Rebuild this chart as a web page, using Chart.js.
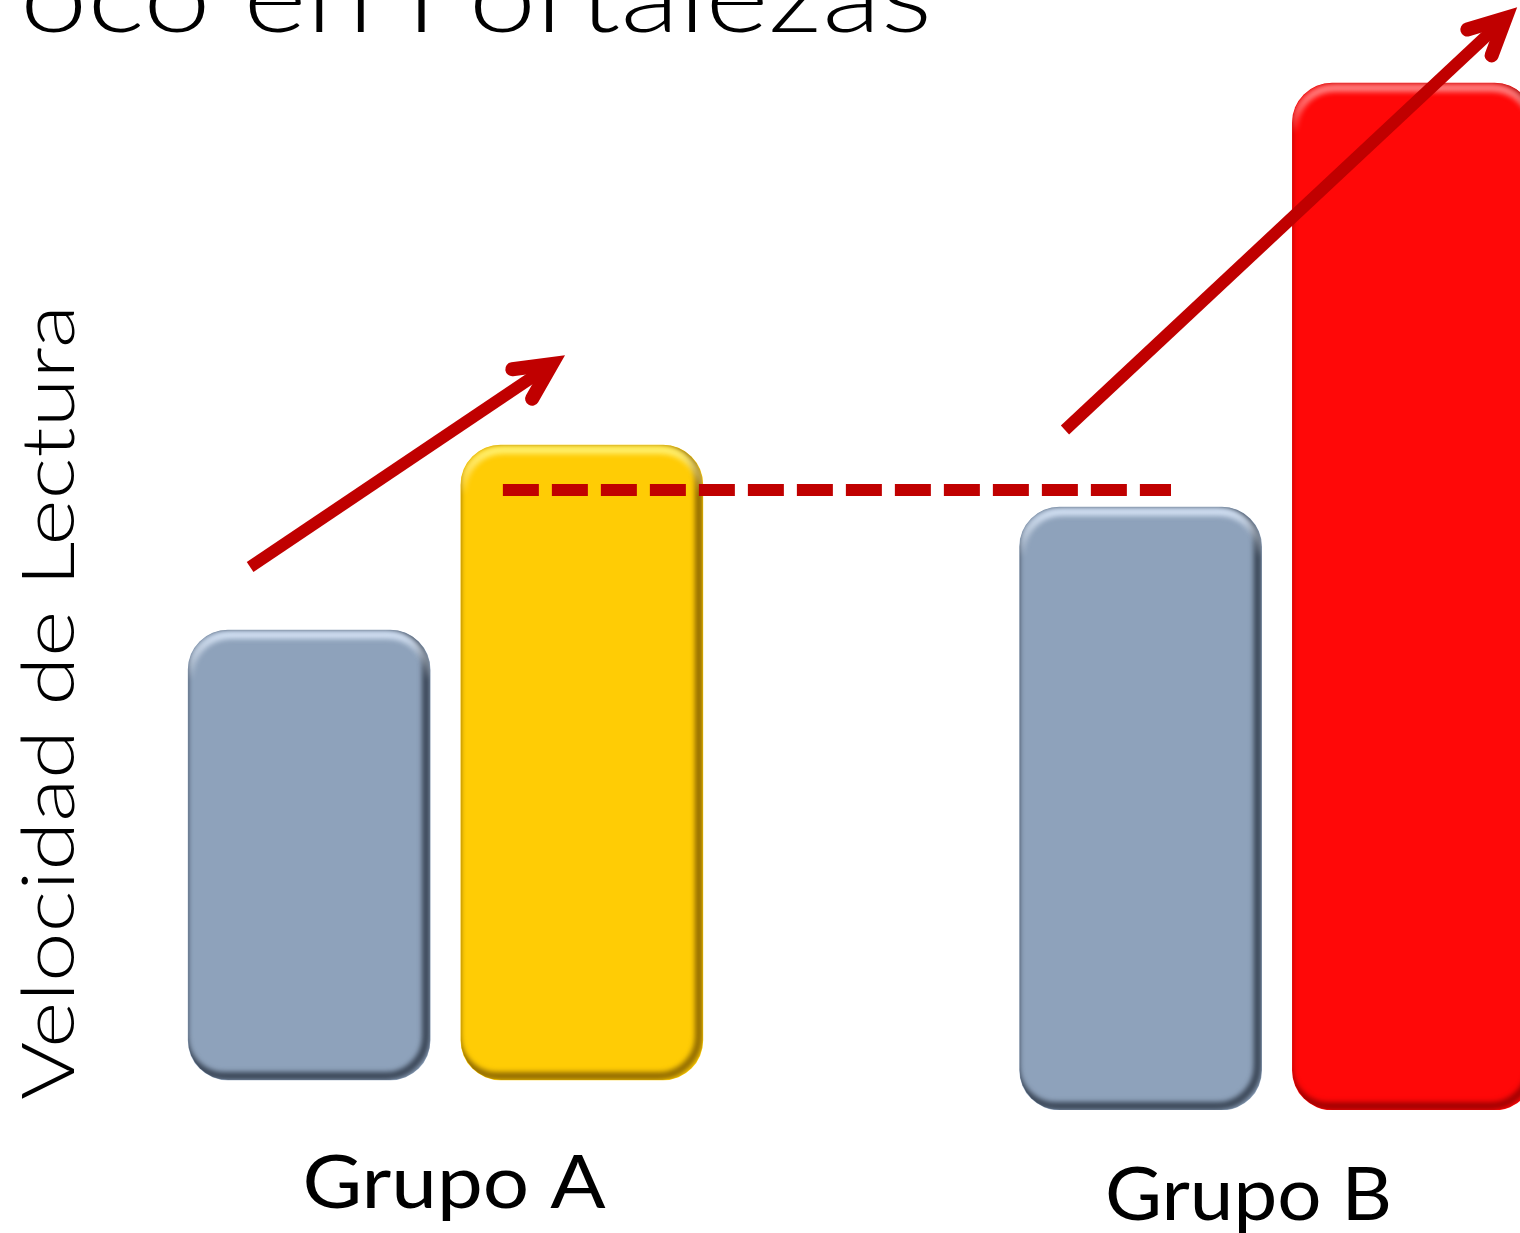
<!DOCTYPE html>
<html>
<head>
<meta charset="utf-8">
<script src="https://cdn.jsdelivr.net/npm/chart.js@4"></script>
<style>
  html, body { margin: 0; padding: 0; background: #fff; overflow: hidden; }
  #wrap { position: absolute; left: 0; top: 0; width: 1700px; height: 1233px; }
</style>
</head>
<body>
<div id="wrap"><canvas id="velChart" width="1700" height="1233"></canvas></div>
<script>
/* data */
const groups      = ['Grupo A', 'Grupo B'];
const antesBase   = [3, 0];
const antesTop    = [48, 60.3];
const despuesBase = [3, 0];
const despuesTop  = [66.5, 102.7];

// arrows + reference line, x in group units (0 = Grupo A, 1 = Grupo B)
const arrowAX = [-0.235, 0.128];
const arrowAY = [54.3, 74.6];
const arrowBX = [0.745, 1.275];
const arrowBY = [68, 109.2];
const refX    = [0.069, 0.8725];
const refY    = [62, 62];

const FONT = "Lato, 'DejaVu Sans', sans-serif";
const DARK_RED = '#C00000';
const GRAY = '#8EA2BB';
const RADIUS = 40;
const BAR_W = 242;
const HALF_GAP = 0.164;   // bar centre offset from group centre, in group units

// bevel colours per bar [light, dark]
const bevelAntes   = [['rgba(215,230,250,0.95)', 'rgba(45,55,70,0.85)'], ['rgba(215,230,250,0.95)', 'rgba(45,55,70,0.85)']];
const bevelDespues = [['rgba(255,245,110,0.95)', 'rgba(120,85,0,0.8)'], ['rgba(255,140,140,0.9)', 'rgba(140,0,0,0.8)']];

const pts = (xs, ys) => xs.map((x, i) => ({ x, y: ys[i] }));
const bars = (base, top, off) => base.map((b, i) => ({ x: i + off, y: [b, top[i]] }));

function bevelBar(ctx, l, t, w, h, light, dark) {
  ctx.save();
  ctx.beginPath(); ctx.roundRect(l, t, w, h, RADIUS); ctx.clip();
  ctx.filter = 'blur(2.5px)';
  ctx.lineWidth = 8;
  ctx.strokeStyle = dark;
  ctx.beginPath(); ctx.roundRect(l - 4, t - 4, w, h, RADIUS); ctx.stroke();
  const g = ctx.createLinearGradient(0, t, 0, t + RADIUS + 10);
  g.addColorStop(0, light);
  g.addColorStop(1, 'rgba(255,255,255,0)');
  ctx.strokeStyle = g;
  ctx.beginPath(); ctx.roundRect(l + 2, t + 5, w - 4, h, RADIUS); ctx.stroke();
  ctx.restore();
}

const bevelPlugin = {
  id: 'bevel',
  afterDatasetDraw(chart, args) {
    const meta = args.meta;
    if (meta.type !== 'bar') return;
    const cols = args.index === 0 ? bevelAntes : bevelDespues;
    meta.data.forEach((bar, i) => {
      const p = bar.getProps(['x', 'y', 'base', 'width'], true);
      const t = Math.min(p.y, p.base), h = Math.abs(p.base - p.y);
      bevelBar(chart.ctx, p.x - p.width / 2, t, p.width, h, cols[i][0], cols[i][1]);
    });
  }
};

const arrowPlugin = {
  id: 'arrowHeads',
  afterDatasetsDraw(chart) {
    const ctx = chart.ctx;
    chart.data.datasets.forEach((ds, di) => {
      if (!ds.arrow) return;
      const d = chart.getDatasetMeta(di).data;
      const a = d[d.length - 2], b = d[d.length - 1];
      const ang = Math.atan2(b.y - a.y, b.x - a.x);
      const len = 40, spread = 0.46;
      ctx.save();
      ctx.strokeStyle = DARK_RED;
      ctx.lineWidth = 14;
      ctx.lineCap = 'round';
      ctx.lineJoin = 'miter';
      ctx.beginPath();
      ctx.moveTo(b.x - len * Math.cos(ang - spread), b.y - len * Math.sin(ang - spread));
      ctx.lineTo(b.x, b.y);
      ctx.lineTo(b.x - len * Math.cos(ang + spread), b.y - len * Math.sin(ang + spread));
      ctx.stroke();
      ctx.restore();
    });
  }
};

function drawFit(ctx, txt, x, y, w, size, weight, angle) {
  ctx.save();
  ctx.translate(x, y);
  if (angle) ctx.rotate(angle);
  ctx.font = `${weight} ${size}px ${FONT}`;
  ctx.textAlign = 'left';
  ctx.textBaseline = 'alphabetic';
  const m = ctx.measureText(txt).width;
  ctx.scale(w / m, 1);
  ctx.fillStyle = '#000';
  ctx.fillText(txt, 0, 0);
  ctx.restore();
}

const textPlugin = {
  id: 'texts',
  afterDraw(chart) {
    const ctx = chart.ctx;
    drawFit(ctx, 'oco en Fortalezas', 20, 32, 912, 100, 300);
    drawFit(ctx, 'Velocidad de Lectura', 74, 1100, 795, 72, 300, -Math.PI / 2);
    const xs = chart.scales.x;
    const offs = [-143, -172], base = [1208, 1220], widths = [303, 287];
    groups.forEach((g, i) => {
      drawFit(ctx, g, xs.getPixelForValue(i) + offs[i], base[i], widths[i], 74, 400);
    });
  }
};

const barCommon = {
  type: 'bar', order: 2, grouped: false,
  barThickness: BAR_W, borderRadius: RADIUS, borderSkipped: false, borderWidth: 0
};
const lineCommon = {
  type: 'line', order: 0, borderColor: DARK_RED, borderWidth: 12,
  borderCapStyle: 'butt', pointRadius: 0, fill: false
};

new Chart(document.getElementById('velChart'), {
  type: 'bar',
  data: {
    datasets: [
      { ...barCommon, label: 'Antes',   data: bars(antesBase, antesTop, -HALF_GAP), backgroundColor: GRAY },
      { ...barCommon, label: 'Después', data: bars(despuesBase, despuesTop, HALF_GAP), backgroundColor: ['#FFCC05', '#FF0808'] },
      { ...lineCommon, label: 'ref',   data: pts(refX, refY), borderDash: [36, 13] },
      { ...lineCommon, label: 'tendA', data: pts(arrowAX, arrowAY), arrow: true },
      { ...lineCommon, label: 'tendB', data: pts(arrowBX, arrowBY), arrow: true }
    ]
  },
  options: {
    responsive: false,
    animation: false,
    layout: { padding: { left: 29.75, right: 7.25, top: 0, bottom: 123 } },
    plugins: { legend: { display: false }, tooltip: { enabled: false } },
    scales: {
      x: { type: 'linear', display: false, min: -0.5, max: 1.5, offset: false },
      y: { type: 'linear', display: false, min: 0, max: 111 }
    }
  },
  plugins: [bevelPlugin, arrowPlugin, textPlugin]
});
</script>
</body>
</html>
